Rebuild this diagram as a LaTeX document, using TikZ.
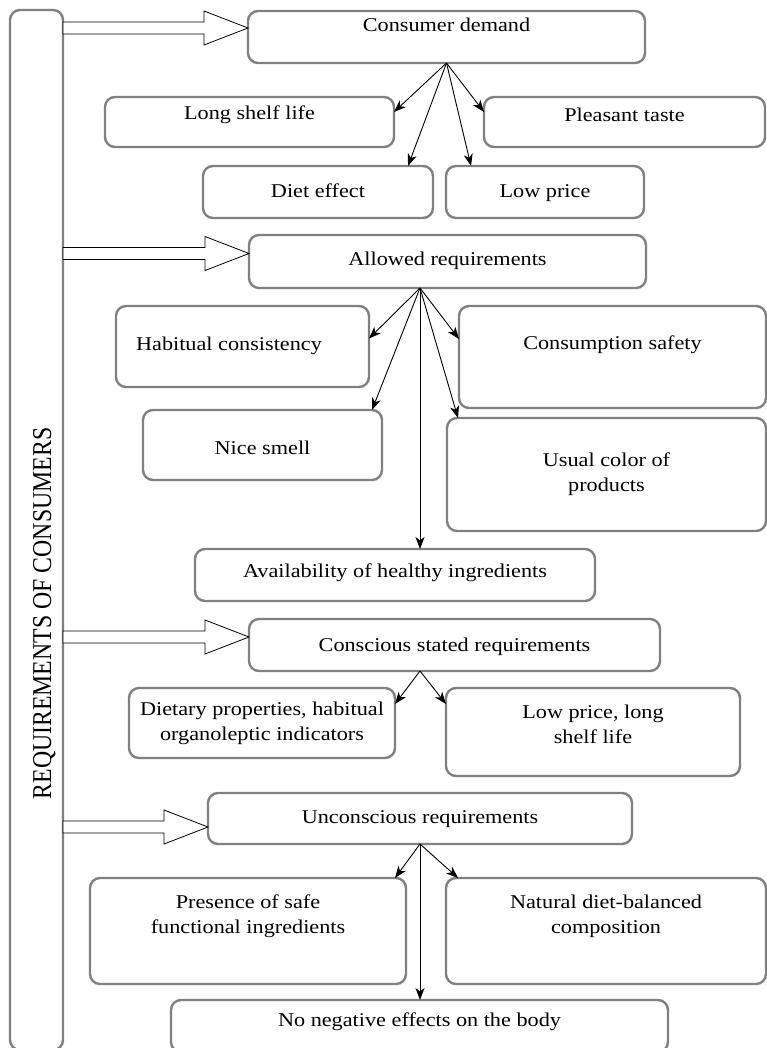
\documentclass[tikz,border=0pt]{standalone}
\usepackage{fontspec}
\setmainfont{Liberation Serif}[FakeStretch=1.14]
\newfontfamily\sidefont{Liberation Serif}[FakeStretch=0.875]
\usetikzlibrary{arrows.meta,calc}
\definecolor{boxGray}{HTML}{808080}

\begin{document}
\begin{tikzpicture}[x=1pt, y=-1pt,
  box/.style={draw=boxGray, line width=2.4pt, rounded corners=10pt, inner sep=0pt, outer sep=0pt},
  lbl/.style={font=\fontsize{19.5}{25}\selectfont, inner sep=0pt, text height=13.5pt, text depth=4.3pt},
  lbl2/.style={font=\fontsize{19.5}{25}\selectfont, inner sep=0pt, align=center},
  arr/.style={line width=0.9pt, -{Stealth[length=12pt, width=9pt, inset=3.5pt]}},
  hollow/.style={draw=black, line width=0.8pt, fill=white,
    to path={let \p1=(\tikztostart), \p2=(\tikztotarget) in
      (\x1,\y2+6pt) -- (\x2-44pt,\y2+6pt) -- (\x2-44pt,\y2+17pt) -- (\x2,\y2)
      -- (\x2-44pt,\y2-17pt) -- (\x2-44pt,\y2-6pt) -- (\x1,\y2-6pt) -- cycle}}]
  \useasboundingbox (0,0) rectangle (767,1048);

  % left column
  \node[box, minimum width=53pt, minimum height=1040pt] (side) at (36.5,530) {};
  \node[rotate=90, font=\sidefont\fontsize{27.2}{30}\selectfont, inner sep=0pt, text height=18pt, text depth=0pt] (sidet) at (42,613.5) {REQUIREMENTS OF CONSUMERS};

  % consumer demand
  \node[box, minimum width=397pt, minimum height=52pt] (d0) at (446.5,37) {};
  \node[box, minimum width=289pt, minimum height=50pt] (d1) at (249.5,122) {};
  \node[box, minimum width=281pt, minimum height=50pt] (d2) at (624.5,122) {};
  \node[box, minimum width=230pt, minimum height=52pt] (d3) at (318,192) {};
  \node[box, minimum width=198pt, minimum height=52pt] (d4) at (545,192) {};
  \node[lbl] (d0t) at (446.5,27) {Consumer demand};
  \node[lbl] (d1t) at (249.5,114.5) {Long shelf life};
  \node[lbl] (d2t) at (624.5,116.5) {Pleasant taste};
  \node[lbl] (d3t) at (318,192.5) {Diet effect};
  \node[lbl] (d4t) at (545,192.5) {Low price};

  % allowed requirements
  \node[box, minimum width=397pt, minimum height=53pt] (a0) at (447.5,261.5) {};
  \node[box, minimum width=253pt, minimum height=81pt] (a1) at (242.5,346.5) {};
  \node[box, minimum width=307pt, minimum height=102pt] (a2) at (612.5,357) {};
  \node[box, minimum width=239pt, minimum height=70pt] (a3) at (262.5,445) {};
  \node[box, minimum width=319pt, minimum height=113pt] (a4) at (606.5,474.5) {};
  \node[box, minimum width=400pt, minimum height=52pt] (a5) at (395,575) {};
  \node[lbl] (a0t) at (447.5,260.5) {Allowed requirements};
  \node[lbl] (a1t) at (229,345.5) {Habitual consistency};
  \node[lbl] (a2t) at (612.5,344.5) {Consumption safety};
  \node[lbl] (a3t) at (262.5,449.5) {Nice smell};
  \node[lbl2] (a4t) at (606.5,474.5) {Usual color of\\products};
  \node[lbl] (a5t) at (395,572.5) {Availability of healthy ingredients};

  % conscious stated requirements
  \node[box, minimum width=411pt, minimum height=52pt] (c0) at (454.5,645) {};
  \node[box, minimum width=266pt, minimum height=70pt] (c1) at (262,723) {};
  \node[box, minimum width=294pt, minimum height=88pt] (c2) at (593,732) {};
  \node[lbl] (c0t) at (454.5,646.5) {Conscious stated requirements};
  \node[lbl2] (c1t) at (262,723) {Dietary properties, habitual\\organoleptic indicators};
  \node[lbl2] (c2t) at (593,724) {Low price, long\\shelf life};

  % unconscious requirements
  \node[box, minimum width=424pt, minimum height=51pt] (u0) at (420,818.5) {};
  \node[box, minimum width=316pt, minimum height=106pt] (u1) at (248,931) {};
  \node[box, minimum width=320pt, minimum height=106pt] (u2) at (606,931) {};
  \node[box, minimum width=497pt, minimum height=52pt] (u3) at (419.5,1026) {};
  \node[lbl] (u0t) at (420,818.5) {Unconscious requirements};
  \node[lbl2] (u1t) at (248,916) {Presence of safe\\functional ingredients};
  \node[lbl2] (u2t) at (606,916) {Natural diet-balanced\\composition};
  \node[lbl] (u3t) at (419.5,1022) {No negative effects on the body};

  % fans
  \draw[arr] (d0.south) -- ([yshift=10pt]d1.east);
  \draw[arr] (d0.south) -- ([yshift=10pt]d2.west);
  \draw[arr] (d0.south) -- ([xshift=-25pt]d3.north east);
  \draw[arr] (d0.south) -- ([xshift=25pt]d4.north west);

  \coordinate (ha) at ([xshift=-27.5pt]a0.south);
  \draw[arr] (ha) -- ([yshift=8pt]a1.east);
  \draw[arr] (ha) -- ([xshift=-10pt]a3.north east);
  \draw[arr] (ha) -- ([yshift=18pt]a2.west);
  \draw[arr] (ha) -- ([xshift=11pt]a4.north west);
  \draw[arr] (ha) -- (ha |- a5.north);

  \coordinate (hc) at ([xshift=-34.5pt]c0.south);
  \draw[arr] (hc) -- ([yshift=-16pt]c1.north east);
  \draw[arr] (hc) -- ([yshift=-16pt]c2.north west);

  \draw[arr] (u0.south) -- ([xshift=-11pt]u1.north east);
  \draw[arr] (u0.south) -- ([xshift=12pt]u2.north west);
  \draw[arr] (u0.south) -- (u0.south |- u3.north);

  % block arrows from the left column
  \coordinate (b1) at ([yshift=9pt]d0.west);
  \coordinate (b2) at ([yshift=8pt]a0.west);
  \coordinate (b3) at ([yshift=8pt]c0.west);
  \coordinate (b4) at ([yshift=-8.5pt]u0.west);
  \draw[hollow] (side.east |- b1) to (b1);
  \draw[hollow] (side.east |- b2) to (b2);
  \draw[hollow] (side.east |- b3) to (b3);
  \draw[hollow] (side.east |- b4) to (b4);
\end{tikzpicture}
\end{document}
